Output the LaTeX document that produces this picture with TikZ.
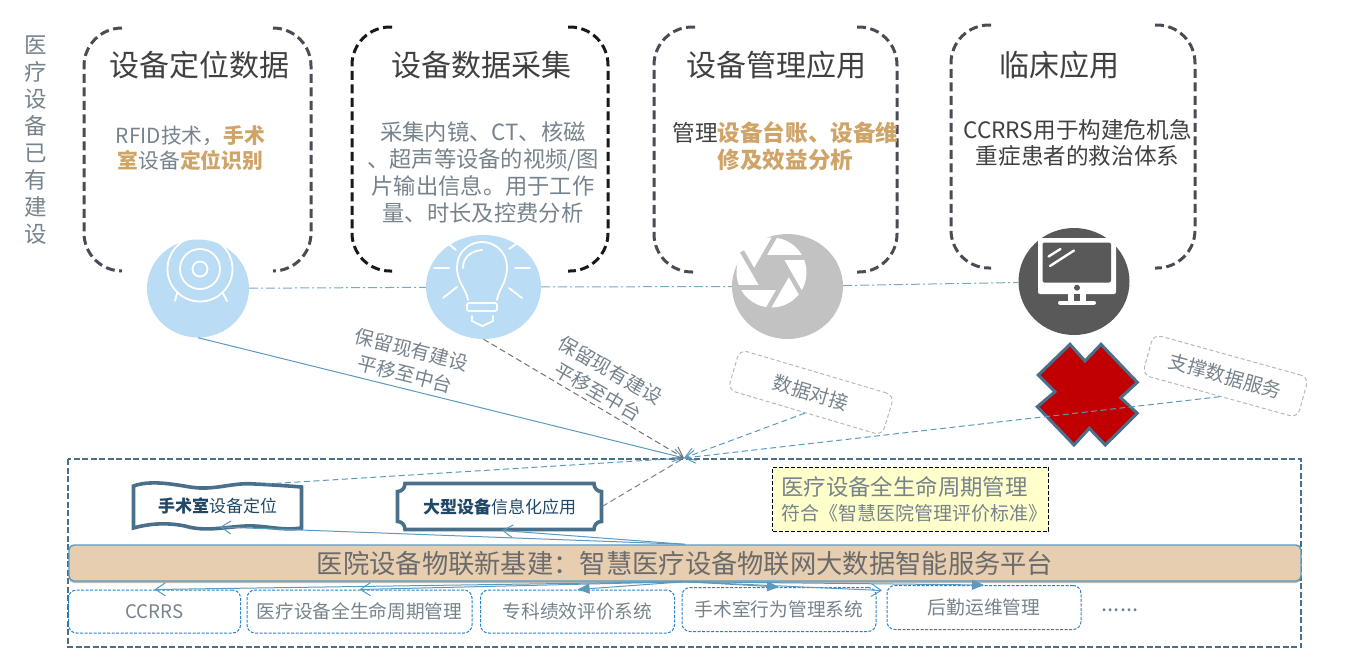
\documentclass[tikz,border=0pt]{standalone}
\usepackage{fontspec}
\setmainfont{Noto Sans CJK SC}
\usetikzlibrary{arrows.meta,shapes.geometric,shadows}
\definecolor{titlegray}{HTML}{404040}
\definecolor{bodygray}{HTML}{76838C}
\definecolor{accent}{HTML}{CFA468}
\definecolor{parengray}{HTML}{4D4A55}
\definecolor{steel}{HTML}{4A6F8A}
\definecolor{linkblue}{HTML}{5B9ABF}
\definecolor{paleblue}{HTML}{BBDCF5}
\definecolor{navy}{HTML}{1F4868}
\definecolor{tagblue}{HTML}{2483C5}
\tikzset{
    paren/.style={line width=3pt,dash pattern=on 9pt off 4.5pt,rounded corners=38pt},
    title/.style={text=titlegray,font=\fontsize{30}{34}\selectfont},
    body/.style={align=center,text=bodygray,font=\fontsize{22.3}{27}\selectfont},
    darkbody/.style={align=center,text=titlegray,font=\fontsize{22.6}{26}\selectfont},
    spot/.style={ellipse,inner sep=0pt},
    iconline/.style={draw=white,line width=1.8pt,line cap=round},
    note/.style={align=center,text=bodygray,font=\fontsize{19.3}{25}\selectfont},
    tag/.style={draw=black!28,line width=1pt,dash pattern=on 4pt off 2.5pt,rounded corners=8pt,minimum width=161pt,minimum height=42pt,text=bodygray,font=\fontsize{19.3}{22}\selectfont},
    sys/.style={draw=tagblue,line width=1pt,dash pattern=on 3pt off 1.5pt,rounded corners=8pt,text=bodygray,font=\fontsize{18.7}{22}\selectfont,inner sep=0pt},
    opentip/.style={-{Straight Barb[length=10pt,width=13pt]}},
    filltip/.style={-{Triangle[length=12pt,width=10pt]}},
    longdash/.style={dash pattern=on 6pt off 3.5pt}
}
\begin{document}
\begin{tikzpicture}[x=1pt,y=-1pt]
    \useasboundingbox (0,0) rectangle (1347,651);
    \node[align=center,text=bodygray,font=\fontsize{22.5}{27}\selectfont] (side) at (36,140.5) {医\\疗\\设\\备\\已\\有\\建\\设};
    \begin{scope}[every path/.append style={paren}]
        \draw[parengray] (122,28) -- (84,28) -- (84,271) -- (122,271);
        \draw[parengray] (273,28) -- (311,28) -- (311,271) -- (273,271);
        \draw[black!90] (392,27) -- (352,27) -- (352,271) -- (392,271);
        \draw[black!90] (568,27) -- (608,27) -- (608,271) -- (568,271);
        \draw[parengray] (695,27) -- (654,27) -- (654,272) -- (695,272);
        \draw[parengray] (857,27) -- (897,27) -- (897,272) -- (857,272);
        \draw[parengray] (991,25) -- (951,25) -- (951,268) -- (991,268);
        \draw[parengray] (1155,25) -- (1195,25) -- (1195,268) -- (1155,268);
    \end{scope}
    \node[title] (t1) at (199,65) {设备定位数据};
    \node[title] (t2) at (481,65) {设备数据采集};
    \node[title] (t3) at (776.5,65) {设备管理应用};
    \node[title] (t4) at (1059,65) {临床应用};
    \node[body,font=\fontsize{20.8}{25.5}\selectfont] (b1) at (190.5,148) {RFID技术，\textcolor{accent}{\textbf{手术}}\\\textcolor{accent}{\textbf{室}}设备\textcolor{accent}{\textbf{定位识别}}};
    \node[body] (b2) at (483,172) {采集内镜、CT、核磁\\、超声等设备的视频/图\\片输出信息。用于工作\\量、时长及控费分析};
    \node[darkbody,font=\fontsize{22.6}{27}\selectfont] (b3) at (785.5,146) {管理\textcolor{accent}{\textbf{设备台账、设备维}}\\\textcolor{accent}{\textbf{修及效益分析}}};
    \node[darkbody] (b4) at (1077.5,143) {CCRRS用于构建危机急\\重症患者的救治体系};
    \node[spot,fill=paleblue,minimum width=102pt,minimum height=98pt] (loc) at (198,288.5) {};
    \node[spot,fill=paleblue,minimum width=115pt,minimum height=104pt] (bulb) at (483.5,287) {};
    \node[spot,fill=black!24,minimum width=111pt,minimum height=105pt] (lens) at (787.5,286.5) {};
    \node[spot,fill=black!65,minimum width=111pt,minimum height=107pt] (screen) at (1074,281.5) {};
    \begin{scope}[every edge/.style={draw=linkblue!85,dash pattern=on 9pt off 3pt on 2pt off 3pt,line width=1pt}]
        \path
            (loc) edge (bulb)
            (bulb) edge (lens)
            (lens) edge (screen);
    \end{scope}
    \begin{scope}[every path/.append style={iconline}]
        \draw (200,269) circle (32.5);
        \draw (200,269) circle (20);
        \draw (200,269) circle (7.5);
        \draw (177,293) -- (175,301);
        \draw (223,293) -- (227,301);
        \draw (468,300) .. controls (466,288) and (457,283) .. (457,267) .. controls (457,252) and (469,242) .. (482,242) .. controls (495,242) and (507,252) .. (507,267) .. controls (507,283) and (499,288) .. (497,300);
        \draw (463,268) .. controls (463,257) and (471,251) .. (482,250);
        \draw[rounded corners=2pt] (467,303) rectangle (497,311);
        \draw (472,316) -- (472,321) -- (482.5,326) -- (493,321) -- (493,316);
        \draw (450,245) -- (456,250);
        \draw (516,244) -- (509,249);
        \draw (434,268) -- (449,268);
        \draw (515,268) -- (530,268);
        \draw (443,298) -- (457,287);
        \draw (522,298) -- (509,288);
    \end{scope}
    \fill[white] (771.5,272.5) circle (35);
    \fill[black!24] (771.5,272.5) circle (17);
    \foreach \a in {0,60,...,300}
        \draw[black!24,line width=4.5pt,shift={(771.5,272.5)},rotate=-\a] (-9,-15) -- (33,-15);
    \fill[white,rounded corners=2pt] (1038,238) rectangle (1116,294);
    \fill[black!65,rounded corners=2pt] (1042.5,242.5) rectangle (1111,282.5);
    \fill[white] (1068,294) rectangle (1086,302);
    \fill[black!65] (1074,294) rectangle (1080,301);
    \fill[black!65] (1077,287.7) circle (3);
    \draw[white,line width=4pt,line cap=round] (1060,302.5) -- (1094,302.5);
    \draw[white,line width=2.4pt,line cap=round] (1048.5,256.5) -- (1060.5,249);
    \draw[white,line width=2.4pt,line cap=round] (1050,266) -- (1074,250.5);
    \node[note,rotate=-14] (keep1) at (408.5,362) {保留现有建设\\平移至中台};
    \node[note,rotate=-30] (keep2) at (604,381) {保留现有建设\\平移至中台};
    \node[tag,rotate=-16.5] (dock) at (811,392.5) {数据对接};
    \node[tag,rotate=-15.5] (serve) at (1225.5,376) {支撑数据服务};
    \draw[steel,fill={rgb,255:red,192;green,0;blue,0},line width=3pt] (1070,344.3) -- (1085,361) -- (1101,344.3) -- (1137.3,382.3) -- (1120.7,397.7) -- (1137.3,413.3) -- (1105.3,445) -- (1089.3,428.3) -- (1074,445) -- (1037.3,406.7) -- (1055,391.7) -- (1038.3,375) -- cycle;
    \draw[steel,line width=2pt,dash pattern=on 6pt off 2.5pt] (68,459) rectangle (1301,647);
    \node[draw=black,line width=.9pt,dash pattern=on 4pt off 2pt,fill={rgb,255:red,255;green,255;blue,204},minimum width=276pt,minimum height=64pt,inner sep=0pt] (std) at (910.5,499) {};
    \node[anchor=west,text=bodygray,font=\fontsize{22.4}{26}\selectfont,inner sep=0pt] (std1) at (781,487) {医疗设备全生命周期管理};
    \node[anchor=west,text=bodygray,font=\fontsize{19}{23}\selectfont,inner sep=0pt] (std2) at (781,513) {符合《智慧医院管理评价标准》};
    \node[text=navy,font=\fontsize{17}{20}\selectfont,minimum width=169pt,minimum height=44pt,inner sep=0pt] (opbox) at (217.5,506) {\textbf{手术室}设备定位};
    \node[text=navy,font=\fontsize{17}{20}\selectfont,minimum width=205pt,minimum height=47pt,inner sep=0pt] (bigbox) at (499.5,506.5) {\textbf{大型设备}信息化应用};
    \draw[steel,line width=3.6pt,line join=miter] (133.5,486) .. controls (150,480) and (172,484) .. (190,487) .. controls (215,491) and (232,482) .. (255,484) .. controls (275,485) and (290,486) .. (301.5,487) -- (301.5,528) .. controls (280,531) and (265,525) .. (245,526) .. controls (225,527) and (205,532) .. (185,526) .. controls (165,522) and (148,524) .. (133.5,528) -- cycle;
    \draw[steel,line width=3.6pt] (405,483.5) -- (594,483.5) .. controls (594,488) and (597,491.5) .. (601.5,491.5) -- (601.5,521.5) .. controls (597,521.5) and (594,525) .. (594,529.5) -- (405,529.5) .. controls (405,525) and (402,521.5) .. (397.5,521.5) -- (397.5,491.5) .. controls (402,491.5) and (405,488) .. (405,483.5) -- cycle;
    \node[draw=linkblue,line width=1.4pt,fill={rgb,255:red,232;green,206;blue,176},rounded corners=5pt,minimum width=1232pt,minimum height=36pt,inner sep=0pt,text=black!58,font=\fontsize{26.3}{30}\selectfont,drop shadow={shadow xshift=0pt,shadow yshift=-2pt,opacity=.55}] (hub) at (685,563) {医院设备物联新基建：智慧医疗设备物联网大数据智能服务平台};
    \node[sys,minimum width=172pt,minimum height=43pt] (s1) at (154.5,611.5) {CCRRS};
    \node[sys,minimum width=225pt,minimum height=43pt] (s2) at (359.5,611.5) {医疗设备全生命周期管理};
    \node[sys,minimum width=194pt,minimum height=43pt] (s3) at (577.5,611.5) {专科绩效评价系统};
    \node[sys,minimum width=194pt,minimum height=44pt] (s4) at (779,609.5) {手术室行为管理系统};
    \node[sys,minimum width=194pt,minimum height=44pt] (s5) at (984,607.5) {后勤运维管理};
    \node[text=bodygray,font=\fontsize{22}{24}\selectfont,inner sep=0pt] (more) at (1120,610) {......};
    \coordinate (meet) at (684,458);
    \coordinate (optop) at (266,484);
    \coordinate (opin) at (220,527);
    \coordinate (bigin) at (502,530.5);
    \coordinate (s4end) at (882,590.5);
    \begin{scope}[every edge/.style={draw,line width=1pt}]
        \path
            (loc.south) edge [linkblue,opentip] (meet)
            (bulb.south) edge [black!55,longdash,opentip] (meet)
            (dock.south) edge [linkblue,longdash,opentip] (meet)
            (serve.south) edge [linkblue,longdash,opentip] (meet)
            (optop) edge [linkblue,longdash] (meet)
            (bigbox.east) edge [black!50,longdash] (meet)
            (hub.north) edge [linkblue,opentip] (opin)
            (hub.north) edge [linkblue,opentip] (bigin)
            (hub.south) edge [linkblue,opentip] (s1.north)
            (hub.south) edge [linkblue,opentip] (s2.north)
            (hub.south) edge [linkblue,filltip] (s3.north)
            (hub.south) edge [linkblue,filltip] (s4.north)
            (hub.south) edge [linkblue,opentip] (s4end)
            (hub.south) edge [linkblue,filltip] (s5.north);
    \end{scope}
\end{tikzpicture}
\end{document}
